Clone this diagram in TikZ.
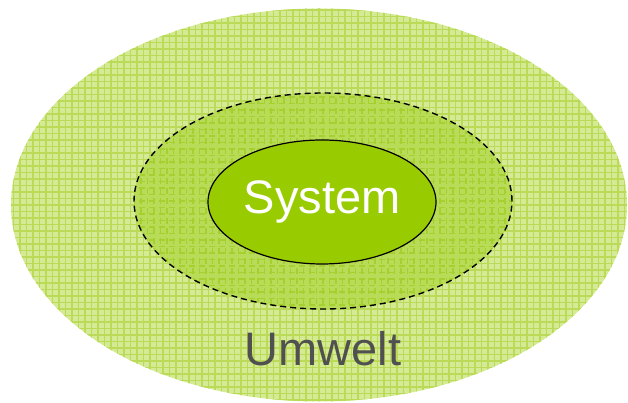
\documentclass[tikz,border=0pt]{standalone}
\usepackage{fontspec}
\setmainfont{Liberation Sans}
\usetikzlibrary{shapes.geometric}
\definecolor{outerbase}{HTML}{D4EA94}
\definecolor{outerline}{HTML}{BBDB58}
\definecolor{midbase}{HTML}{B8DB58}
\definecolor{midline}{HTML}{A6CF30}
\definecolor{sysfill}{HTML}{99CC00}
\definecolor{txtgray}{HTML}{505050}
\tikzset{
  gridfill/.style 2 args={fill=#1, path picture={
      \draw[#2, line width=1.2pt, step=6.5pt]
        ([shift={(-5pt,-5pt)}]path picture bounding box.south west) grid
        ([shift={(5pt,5pt)}]path picture bounding box.north east);}},
  zone/.style={ellipse, inner sep=0pt}
}
\begin{document}
\begin{tikzpicture}[x=1pt,y=1pt]
\useasboundingbox (0,0) rectangle (628,403);
\node[zone, gridfill={outerbase}{outerline}, minimum width=616pt, minimum height=393pt] (umwelt) at (319,198) {};
\node[zone, gridfill={midbase}{midline}, draw=black, line width=1.4pt, dash pattern=on 6pt off 4pt, minimum width=378pt, minimum height=216pt] (grenze) at (323,202) {};
\node[zone, fill=sysfill, draw=black, line width=1.2pt, minimum width=228pt, minimum height=124pt, text=white, font=\fontsize{47}{50}\selectfont] (system) at (322,201) {System};
\node[text=txtgray, font=\fontsize{47}{50}\selectfont, anchor=center] (label) at (323,54) {Umwelt};
\end{tikzpicture}
\end{document}
